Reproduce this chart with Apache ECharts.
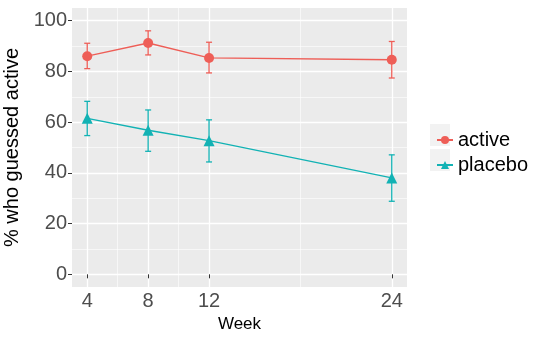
<!DOCTYPE html>
<html>
<head>
<meta charset="utf-8">
<script src="https://cdn.jsdelivr.net/npm/echarts@6/dist/echarts.min.js"></script>
<style>html,body{margin:0;padding:0;background:#fff}#c{width:540px;height:340px}</style>
</head>
<body>
<div id="c"></div>
<script>
const weeks = [4, 8, 12, 24];
const activeMean = [86.0, 91.2, 85.3, 84.6];
const activeLo = [81.1, 86.5, 79.4, 77.4];
const activeHi = [91.1, 96.0, 91.5, 91.8];
const placeboMean = [61.5, 56.8, 52.7, 38.0];
const placeboLo = [54.7, 48.5, 44.3, 28.8];
const placeboHi = [68.2, 64.8, 60.9, 47.1];
const xMajor = [4, 8, 12, 24];
const xMinor = [6, 10, 18];
const yMajor = [0, 20, 40, 60, 80, 100];
const yMinor = [10, 30, 50, 70, 90];
const seriesNames = ['active', 'placebo'];
const colors = ['#EE5E57', '#12B2B4'];

const chart = echarts.init(document.getElementById('c'), null, {renderer: 'canvas'});

function errRender(color) {
  return function (params, api) {
    const x = api.value(0), lo = api.value(1), hi = api.value(2);
    const a = api.coord([x, lo]), b = api.coord([x, hi]);
    const w = 3;
    const st = {stroke: color, lineWidth: 1.3};
    return {type: 'group', children: [
      {type: 'line', shape: {x1: a[0], y1: a[1], x2: b[0], y2: b[1]}, style: st},
      {type: 'line', shape: {x1: a[0] - w, y1: a[1], x2: a[0] + w, y2: a[1]}, style: st},
      {type: 'line', shape: {x1: b[0] - w, y1: b[1], x2: b[0] + w, y2: b[1]}, style: st}
    ]};
  };
}

const axisTextColor = '#4D4D4D';
const option = {
  animation: false,
  backgroundColor: '#fff',
  grid: {left: 72, right: 133, top: 8, bottom: 53, show: true, backgroundColor: '#EBEBEB', borderWidth: 0,
         containLabel: false, outerBoundsMode: 'none'},
  graphic: [
    {type: 'rect', left: 430, top: 124, shape: {width: 20, height: 22}, style: {fill: '#F2F2F2'}, z: 0},
    {type: 'rect', left: 430, top: 149, shape: {width: 20, height: 22}, style: {fill: '#F2F2F2'}, z: 0}
  ],
  legend: {
    data: seriesNames, orient: 'vertical', left: 431, top: 125,
    itemWidth: 16, itemHeight: 10, itemGap: 5, z: 5,
    textStyle: {fontSize: 20, color: '#000', fontFamily: 'Liberation Sans'}
  },
  xAxis: [{
    type: 'value', min: 3, max: 25,
    axisLine: {show: false},
    axisTick: {show: true, customValues: xMajor, length: 4, lineStyle: {color: '#333', width: 1}},
    axisLabel: {customValues: xMajor, fontSize: 20, color: axisTextColor, margin: 4, fontFamily: 'Liberation Sans'},
    splitLine: {show: true, lineStyle: {color: '#fff', width: 1.3}},
    name: 'Week', nameLocation: 'middle', nameGap: 27,
    nameTextStyle: {fontSize: 17, color: '#000', fontFamily: 'Liberation Sans'}
  }, {
    type: 'value', min: 3, max: 25,
    axisLine: {show: false},
    axisTick: {show: false, customValues: xMinor},
    axisLabel: {show: false, customValues: xMinor},
    splitLine: {show: true, lineStyle: {color: '#fff', width: 0.6}}
  }],
  yAxis: [{
    type: 'value', min: -5, max: 105,
    axisLine: {show: false},
    axisTick: {show: true, customValues: yMajor, length: 4, lineStyle: {color: '#333', width: 1}},
    axisLabel: {customValues: yMajor, fontSize: 20, color: axisTextColor, margin: 5, fontFamily: 'Liberation Sans'},
    splitLine: {show: true, lineStyle: {color: '#fff', width: 1.3}},
    name: '% who guessed active', nameLocation: 'middle', nameGap: 45, nameRotate: 90,
    nameTextStyle: {fontSize: 20, color: '#000', fontFamily: 'Liberation Sans'}
  }, {
    type: 'value', min: -5, max: 105,
    axisLine: {show: false},
    axisTick: {show: false, customValues: yMinor},
    axisLabel: {show: false, customValues: yMinor},
    splitLine: {show: true, lineStyle: {color: '#fff', width: 0.6}}
  }],
  series: [
    {
      type: 'custom', name: 'active-err', xAxisIndex: 0, yAxisIndex: 0, z: 2,
      renderItem: errRender(colors[0]), encode: {x: 0, y: [1, 2]},
      data: weeks.map((w, i) => [w, activeLo[i], activeHi[i]])
    },
    {
      type: 'custom', name: 'placebo-err', xAxisIndex: 0, yAxisIndex: 0, z: 2,
      renderItem: errRender(colors[1]), encode: {x: 0, y: [1, 2]},
      data: weeks.map((w, i) => [w, placeboLo[i], placeboHi[i]])
    },
    {
      type: 'line', name: seriesNames[0], xAxisIndex: 0, yAxisIndex: 0, z: 3,
      data: weeks.map((w, i) => [w, activeMean[i]]),
      symbol: 'circle', symbolSize: 10, color: colors[0],
      lineStyle: {color: colors[0], width: 1.3}, itemStyle: {color: colors[0]}
    },
    {
      type: 'line', name: seriesNames[1], xAxisIndex: 0, yAxisIndex: 0, z: 3,
      data: weeks.map((w, i) => [w, placeboMean[i]]),
      symbol: 'triangle', symbolSize: 11, color: colors[1],
      lineStyle: {color: colors[1], width: 1.3}, itemStyle: {color: colors[1]}
    }
  ]
};
chart.setOption(option);
</script>
</body>
</html>
